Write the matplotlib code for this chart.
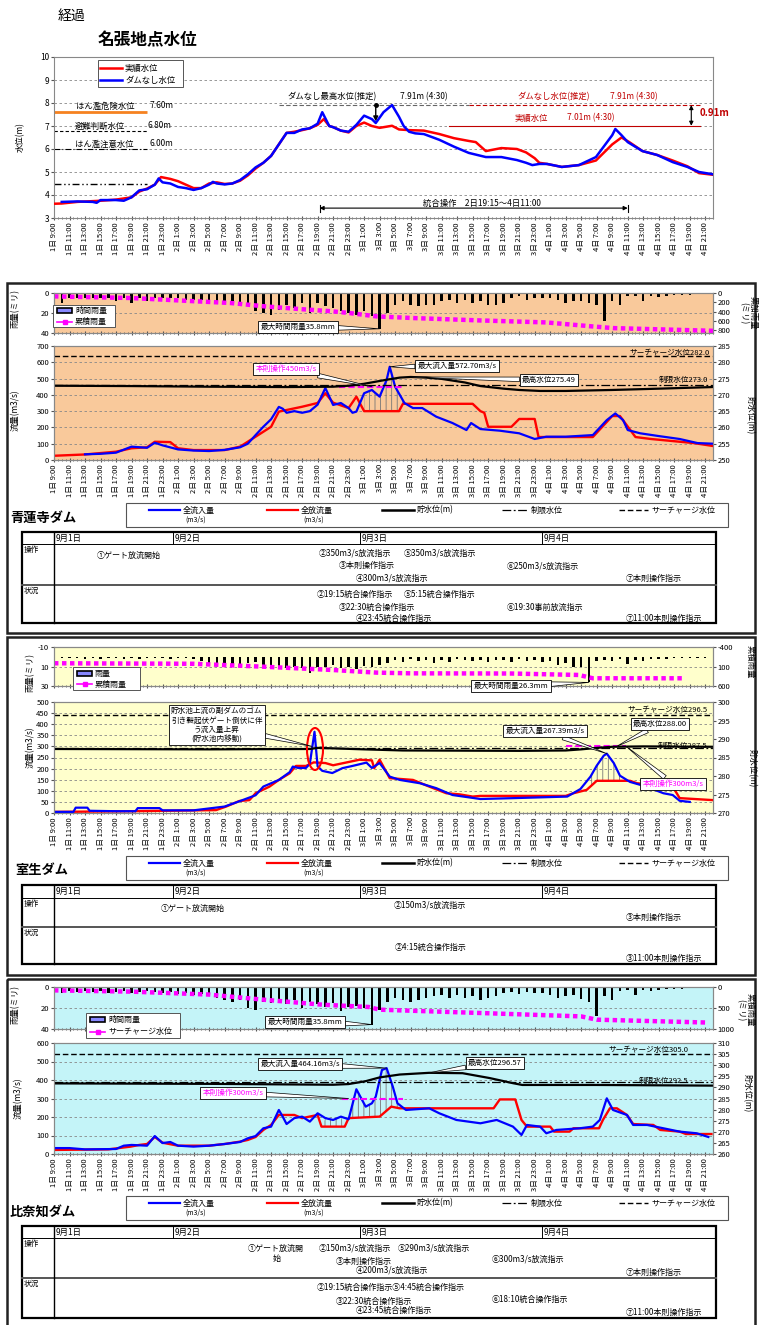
import numpy as np
import matplotlib
matplotlib.use('Agg')
import matplotlib.pyplot as plt
from matplotlib.patches import Rectangle, Ellipse

plt.rcParams['font.family'] = ['Noto Sans CJK JP', 'DejaVu Sans']
plt.rcParams['axes.unicode_minus'] = False
plt.rcParams['hatch.linewidth'] = 0.6
plt.rcParams['hatch.color'] = '#777777'

# 時刻は 1日9:00 からの経過時間 [h]
tick_hours = list(range(0, 85, 2))
tick_labels = ['%d日 %d:00' % (1 + (9 + h) // 24, (9 + h) % 24) for h in tick_hours]
rain_hours = list(range(1, 85))
day_names = ['9月1日', '9月2日', '9月3日', '9月4日']

# ---- 名張地点水位 [m] ----
nabari_jisseki_t = [0, 1, 3, 6, 8, 10, 11, 12, 13, 13.8, 15, 16, 17, 18, 19, 20, 21, 22, 23, 24,
                    25, 26, 27, 28, 29, 30, 31, 32, 33, 34, 34.8, 35.5, 36, 37, 38, 39, 40, 41, 42, 43.6,
                    44.5, 45.8, 47.7, 49.7, 51.6, 53.5, 54.4, 55.7, 57.7, 59.7, 60.9, 62, 62.6, 63.6, 65.5,
                    67.7, 69.9, 72, 73.2, 74.2, 75.9, 77.8, 79.8, 81.7, 83.2, 85]
nabari_jisseki = [3.62, 3.63, 3.70, 3.75, 3.80, 3.90, 4.15, 4.28, 4.45, 4.78, 4.70, 4.60, 4.45, 4.30, 4.30,
                  4.50, 4.55, 4.48, 4.50, 4.62, 4.85, 5.15, 5.40, 5.70, 6.20, 6.70, 6.75, 6.82, 6.90, 7.05,
                  7.30, 7.00, 6.95, 6.80, 6.72, 7.00, 7.15, 7.00, 6.92, 7.01, 6.85, 6.82, 6.80, 6.65, 6.47,
                  6.35, 6.30, 5.91, 6.04, 6.00, 5.85, 5.60, 5.40, 5.35, 5.22, 5.30, 5.50, 6.20, 6.50, 6.30,
                  5.91, 5.74, 5.50, 5.25, 4.95, 4.88]
nabari_nodam_t = [1, 3, 5, 5.5, 6, 8, 9, 10, 11, 12, 13, 13.5, 14, 15, 16, 17, 18, 19, 20, 20.5,
                  21, 22, 23, 24, 25, 26, 27, 28, 29, 30, 31, 32, 33, 34, 34.6, 35.5, 36, 37, 38, 39,
                  40, 41, 41.5, 42.5, 43.6, 44.5, 45.1, 45.8, 46.6, 47.7, 49.7, 51.6, 53.5, 55.7, 57.7,
                  59.7, 60.9, 61.7, 62.6, 63.6, 65.5, 67.7, 69.9, 72, 72.4, 73.2, 74, 75.9, 77.8, 79.8,
                  81.7, 83.2, 85]
nabari_nodam = [3.70, 3.72, 3.70, 3.66, 3.78, 3.78, 3.75, 3.90, 4.20, 4.25, 4.45, 4.72, 4.55, 4.50, 4.35,
                4.30, 4.22, 4.30, 4.45, 4.57, 4.50, 4.46, 4.50, 4.65, 4.90, 5.20, 5.40, 5.70, 6.20, 6.70,
                6.70, 6.85, 6.90, 7.10, 7.60, 7.00, 6.95, 6.80, 6.75, 7.05, 7.45, 7.30, 7.13, 7.60, 7.91,
                7.40, 7.00, 6.75, 6.68, 6.65, 6.40, 6.10, 5.83, 5.65, 5.65, 5.52, 5.40, 5.30, 5.35, 5.35,
                5.22, 5.30, 5.65, 6.60, 6.87, 6.60, 6.30, 5.91, 5.74, 5.43, 5.22, 5.00, 4.90]
kiken_level, hinan_level, chui_level, base_level = 7.60, 6.80, 6.00, 4.50
nodam_peak, jisseki_peak = 7.91, 7.01
sogo_start, sogo_end = 34.25, 74.0   # 2日19:15 ～ 4日11:00

# ---- 青蓮寺ダム ----
shoren_rain = [10, 5, 5, 5, 5, 5, 5, 8, 5, 10, 5, 8, 5, 5, 5, 5, 7, 7, 7, 8, 8, 10, 8, 13, 12, 18, 20,
               22, 17, 12, 15, 10, 20, 10, 13, 15, 18, 20, 22, 18, 23, 35.8,
               20, 12, 8, 12, 13, 12, 12, 8, 7, 10, 7, 10, 8, 12, 12, 10, 5, 3, 7, 5, 5, 5, 7, 10, 8,
               8, 10, 12, 28, 8, 12, 3, 3, 8, 3, 4, 3, 2, 2, 2, 1, 1]
shoren_cum_t = [0, 9.9, 18.5, 22.8, 27.2, 31.7, 36, 38.1, 41.6, 46.3, 54.9, 63.5, 69.5, 72.1, 85]
shoren_cum = [72, 107, 179, 214, 286, 343, 393, 428, 500, 535, 586, 629, 715, 750, 808]
shoren_in_t = [4, 6, 8, 10, 12, 13, 14, 16, 18, 20, 22, 24, 25, 26, 27, 28, 29, 29.5, 30, 31, 32, 33,
               34, 35, 36, 37, 38, 38.5, 39, 40, 41, 42, 42.9, 43.3, 44, 44.6, 45.2, 46.3, 47.5, 49.3,
               51.4, 53.2, 53.8, 55, 57.5, 60, 62, 63.5, 66, 69.5, 71.3, 72.4, 73.4, 74, 75.6, 78, 80.7,
               83, 85]
shoren_in = [35, 38, 45, 82, 75, 106, 90, 65, 58, 55, 62, 78, 100, 153, 204, 250, 326, 315, 290, 300,
             290, 300, 340, 442, 338, 350, 319, 290, 297, 410, 430, 389, 491, 572.7, 450, 400, 350, 319,
             319, 266, 227, 184, 227, 190, 180, 164, 129, 143, 143, 153, 245, 286, 245, 184, 164, 147,
             129, 104, 100]
shoren_out_t = [0, 4, 8, 10, 12, 13, 15, 16, 18, 22, 24, 26, 28, 29, 30, 32, 34, 35, 36, 38, 39, 40,
                44.5, 45, 54, 55, 55.5, 56, 59, 60, 62, 62.5, 69.5, 72, 73, 75, 77, 82.5, 85]
shoren_out = [26, 34, 51, 72, 78, 112, 110, 72, 61, 61, 82, 143, 204, 297, 307, 327, 350, 410, 352,
              319, 389, 300, 300, 345, 345, 300, 290, 204, 204, 252, 252, 141, 141, 270, 270, 141, 129,
              104, 86]
shoren_wl_t = [0, 10, 20, 30, 36, 38, 40, 42.8, 44.6, 46, 48, 50, 53, 55, 58, 60, 62.7, 66, 72, 78, 85]
shoren_wl = [272.8, 272.7, 272.5, 272.4, 272.5, 272.8, 273.4, 274.6, 275.3, 275.49, 275.3, 274.9, 273.8,
             272.7, 271.9, 271.5, 271.2, 271.2, 271.5, 271.9, 272.4]
shoren_surcharge, shoren_limit = 282.0, 273.0
shoren_honsoku, shoren_honsoku_t = 450, [36.8, 45.0]

# ---- 室生ダム ----
muro_rain = [1, 1, 1, 2, 1, 2, 1, 1, 2, 1, 2, 1, 1, 1, 2, 1, 1, 2,
             4, 6, 8, 7, 8, 8, 6, 5, 10, 13, 10, 12, 10, 12, 17, 10, 10, 8, 12, 10, 13, 9, 10, 8,
             6, 3, 5, 2, 4, 3, 6, 3, 5, 2, 3, 4, 3, 5, 3, 3, 5, 2, 4, 3, 5, 4, 8, 6, 11, 10, 26.3,
             4, 3, 4, 2, 7, 3, 4, 2, 2, 2, 1, 1, 1, 1, 1]
muro_cum_t = [0, 18, 27, 36, 41.6, 46, 59, 67.7, 69.5, 81]
muro_cum = [17, 30, 105, 190, 257, 275, 280, 317, 402, 402]
muro_in_t = [0, 2.5, 2.8, 4.3, 4.6, 8, 10.5, 10.8, 13.6, 14, 18, 22, 24, 26, 27, 29, 30.4, 30.8, 31.5,
             32.5, 33, 33.6, 34, 34.6, 35.9, 37.2, 38.5, 40.3, 41, 42, 43.3, 44.6, 47.2, 49.3, 51.4, 55,
             59.3, 66.2, 67.9, 69.2, 70, 70.9, 71.3, 72.2, 73, 74.3, 76.4, 78.6, 79.8, 80.7, 82]
muro_in = [5, 5, 24, 24, 10, 8, 8, 22, 22, 12, 12, 29, 54, 80, 119, 149, 184, 209, 203, 203, 222, 366,
           210, 190, 180, 202, 212, 227, 203, 225, 164, 149, 134, 112, 81, 63, 67, 74, 108, 164, 213,
           258, 267.39, 225, 168, 140, 119, 89, 81, 55, 50]
muro_out_t = [0, 10, 20.9, 22.2, 23.9, 25.2, 26, 27.8, 29, 30.4, 31.2, 32.5, 33.5, 35, 36, 39.4, 41,
              41.3, 42, 43.3, 46.3, 48.4, 50.6, 52.3, 54, 55, 66, 67, 68.7, 70, 74.3, 75.2, 79.8, 80.7, 85]
muro_out = [5, 8, 13, 29, 54, 58, 89, 119, 149, 179, 212, 212, 228, 225, 215, 240, 237, 202, 240, 157,
            149, 119, 89, 84, 74, 77, 77, 89, 104, 145, 145, 134, 119, 67, 58]
muro_wl_t = [0, 20, 33, 34, 40, 45, 60, 66, 68, 70, 72, 76, 85]
muro_wl = [287.3, 287.2, 287.3, 287.6, 287.2, 286.9, 286.8, 286.9, 287.2, 287.6, 287.9, 288.0, 287.9]
muro_surcharge, muro_limit = 296.5, 287.5
muro_honsoku, muro_honsoku_t = 300, [66.0, 73.8]

# ---- 比奈知ダム ----
hinachi_rain = [6, 4, 5, 4, 5, 4, 6, 5, 4, 6, 5, 4, 5, 6, 5, 7, 6, 8, 7, 9,
                10, 12, 14, 12, 20, 22, 14, 15, 12, 16, 12, 20, 14, 16, 19, 15, 23, 19, 18, 20, 35.8,
                22, 14, 10, 12, 14, 12, 10, 9, 8, 10, 8, 10, 9, 12, 10, 9, 6, 5, 7, 5, 6, 6, 8, 10, 9,
                8, 11, 14, 28, 9, 12, 4, 3, 8, 3, 4, 3, 2, 2, 2, 1, 1, 1]
hinachi_cum_t = [0, 10, 20, 27, 34.6, 40.6, 42, 55, 68, 70, 84]
hinachi_cum = [80, 110, 180, 302, 421, 476, 540, 619, 700, 778, 845]
hinachi_in_t = [0, 2, 4, 8, 9, 10, 12, 13, 14, 15, 16, 18, 20, 22, 24, 25, 26, 27, 28, 29, 29.5, 30, 31,
                32, 33, 34, 35, 36, 37, 38, 39, 40.2, 41, 41.5, 42.3, 42.9, 43.7, 44.3, 45.4, 48.4, 49.7,
                51.9, 55, 57.1, 59.2, 60.3, 61, 62.7, 63.5, 64.8, 67.8, 69.5, 70.4, 71.3, 72.1, 73.9,
                74.7, 76.5, 78.6, 80.7, 82.9, 84.4]
hinachi_in = [32, 32, 25, 27, 45, 49, 45, 97, 59, 65, 45, 40, 45, 54, 65, 85, 97, 139, 148, 238, 202,
              162, 194, 202, 175, 220, 194, 184, 202, 188, 350, 256, 274, 310, 454, 464.16, 364, 274,
              238, 247, 220, 184, 166, 184, 148, 103, 157, 148, 112, 130, 139, 148, 184, 301, 238, 211,
              157, 157, 139, 121, 112, 92]
hinachi_out_t = [0, 7, 9.9, 11, 12, 13, 14, 16, 20, 22, 24, 25, 26, 27, 28, 29, 31, 32, 34, 34.5, 37.5,
                 38, 42, 43.5, 44.6, 56.7, 57.5, 59.5, 60.3, 61, 64, 64.5, 66.5, 67, 70.3, 70.8, 71.7,
                 72.6, 73.9, 74.7, 77.3, 78.2, 80.7, 81.5, 84.8]
hinachi_out = [22, 25, 40, 49, 54, 92, 61, 45, 45, 54, 67, 76, 92, 130, 157, 211, 211, 194, 211, 148,
               148, 194, 202, 256, 247, 247, 295, 295, 184, 148, 148, 121, 121, 139, 139, 184, 247, 247,
               211, 162, 157, 130, 121, 108, 108]
hinachi_wl_t = [0, 20, 36, 38, 40.2, 42, 44.6, 48.4, 52.7, 56.2, 59.2, 60.4, 70, 85]
hinachi_wl = [291.8, 291.6, 291.2, 291.5, 292.8, 294.5, 295.8, 296.57, 296.4, 294.2, 291.9, 291.1,
              291.1, 290.8]
hinachi_surcharge, hinachi_limit = 305.0, 292.5
hinachi_honsoku, hinachi_honsoku_t = 300, [37.2, 45.0]

BLUE, RED, MAG = '#0000FF', '#FF0000', '#FF00FF'
DARKRED = '#C00000'
GRID_LS = (0, (3, 3))
SUR_LS = (0, (4, 2))
LIM_LS = (0, (7, 2, 1.5, 2))
CUM_LS = (0, (1, 0.8))

W, H = 760, 1325
fig = plt.figure(figsize=(W / 100, H / 100), dpi=100)

# 全体を覆うピクセル座標の重ね書き用軸
ov = fig.add_axes([0, 0, 1, 1], zorder=10)
ov.set_xlim(0, W)
ov.set_ylim(H, 0)
ov.axis('off')


def px_axes(x0, y0, x1, y1):
    return fig.add_axes([x0 / W, 1 - y1 / H, (x1 - x0) / W, (y1 - y0) / H])


def style(ax):
    for s in ax.spines.values():
        s.set_color('#888888')
    ax.tick_params(labelsize=5.5, length=2, pad=1.5, color='#555555')


def time_axis(ax, labels):
    ax.set_xlim(0, 85)
    ax.set_xticks(tick_hours)
    ax.set_xticks(np.arange(0, 85.01, 0.5), minor=True)
    ax.tick_params(axis='x', which='major', length=3, direction='inout')
    ax.tick_params(axis='x', which='minor', length=2, direction='inout', color='#555555')
    if labels:
        ax.set_xticklabels(tick_labels, rotation=90, fontsize=5.5)
    else:
        ax.set_xticklabels([])


def callout(ax, text, xy, center, color='black', fs=5.5):
    ov.annotate(text, xy=xy, xycoords=ax.transData, xytext=center, textcoords='data',
                ha='center', va='center', fontsize=fs, color=color, annotation_clip=False,
                bbox=dict(boxstyle='square,pad=0.3', fc='white', ec='black', lw=0.6),
                arrowprops=dict(arrowstyle='wedge,tail_width=0.6', fc='white', ec='black',
                                lw=0.5, shrinkA=0, shrinkB=0))


def hatch(ax, t_in, q_in, t_out, q_out, t0, t1):
    # 流入量が放流量を上回る区間（貯留分）に縦線ハッチ
    xs = [t for t in t_in if t0 <= t <= t1]
    ys = [q for t, q in zip(t_in, q_in) if t0 <= t <= t1]
    xr = [t for t in t_out if t0 <= t <= t1][::-1]
    yr = [q for t, q in zip(t_out, q_out) if t0 <= t <= t1][::-1]
    poly = ax.fill(xs + xr, ys + yr, facecolor='none', edgecolor='#777777', hatch='|||',
                   lw=0, zorder=1)[0]
    if hasattr(poly, 'set_hatchcolor'):
        poly.set_hatchcolor('#777777')


def vlabel(x, y, s, rot=90):
    ov.text(x, y, s, rotation=rot, fontsize=6, ha='center', va='center', linespacing=1.1)


def dam_panel(rain_box, flow_box, bg, rain, rain_lim, rain_ticks, cum_t, cum, cum_lim, cum_ticks,
              in_t, q_in, out_t, q_out, wl_t, wl, q_lim, q_ticks, wl_lim, wl_ticks,
              surcharge, limit, honsoku, honsoku_t):
    ra = px_axes(*rain_box)
    ra.set_facecolor(bg)
    rb = ra.twinx()
    for a in (ra, rb):
        style(a)
    ra.set_ylim(*rain_lim)
    ra.set_yticks(rain_ticks)
    ra.yaxis.grid(True, color='#888888', ls=GRID_LS, lw=0.6)
    rb.set_ylim(*cum_lim)
    rb.set_yticks(cum_ticks)
    time_axis(ra, False)
    ra.bar(rain_hours, rain, width=0.32, color='black', zorder=2)
    rb.plot(cum_t, cum, color=MAG, lw=3.2, ls=CUM_LS)

    fa = px_axes(*flow_box)
    fa.set_facecolor(bg)
    fb = fa.twinx()
    for a in (fa, fb):
        style(a)
    fa.set_ylim(*q_lim)
    fa.set_yticks(q_ticks)
    fa.yaxis.grid(True, color='#888888', ls=GRID_LS, lw=0.6)
    fa.set_axisbelow(True)
    fb.set_ylim(*wl_lim)
    fb.set_yticks(wl_ticks)
    time_axis(fa, True)
    fa.plot(out_t, q_out, color=RED, lw=1.7, zorder=3)
    fa.plot(in_t, q_in, color=BLUE, lw=1.6, zorder=4)
    fa.plot(honsoku_t, [honsoku, honsoku], color=MAG, lw=1.5, ls=(0, (3, 1.5)), zorder=5)
    fb.axhline(surcharge, color='black', lw=1.0, ls=SUR_LS)
    fb.axhline(limit, color='black', lw=0.9, ls=LIM_LS)
    fb.plot(wl_t, wl, color='black', lw=1.6)
    return ra, rb, fa, fb


def dam_legend(top):
    ov.add_patch(Rectangle((126, top), 602, 24, fill=False, ec='#555555', lw=0.8))
    y = top + 7
    items = [(149, 180, dict(color=BLUE, lw=1.6), '全流入量', '(m3/s)'),
             (267, 298, dict(color=RED, lw=1.6), '全放流量', '(m3/s)'),
             (382, 414, dict(color='black', lw=1.8), '貯水位(m)', None),
             (502, 528, dict(color='black', lw=0.9, ls=LIM_LS), '制限水位', None),
             (619, 648, dict(color='black', lw=1.0, ls=SUR_LS), 'サーチャージ水位', None)]
    for x0, x1, kw, s, unit in items:
        ov.plot([x0, x1], [y, y], **kw)
        ov.text(x1 + 3, y, s, fontsize=5.8, va='center')
        if unit:
            ov.text(x1 + 5, y + 10, unit, fontsize=5, va='center')


def rain_legend(x0, y0, x1, y1, first, second):
    ov.add_patch(Rectangle((x0, y0), x1 - x0, y1 - y0, fc='white', ec='#555555', lw=0.7))
    ya = y0 + (y1 - y0) * 0.27
    yb = y0 + (y1 - y0) * 0.75
    ov.add_patch(Rectangle((x0 + 4, ya - 2.5), 15, 5, fc='#8888FF', ec='black', lw=1.2))
    ov.text(x0 + 22, ya, first, fontsize=5.8, va='center')
    ov.plot([x0 + 4, x0 + 19], [yb, yb], color=MAG, lw=1.2)
    ov.plot([x0 + 11.5], [yb], 's', color=MAG, ms=3)
    ov.text(x0 + 22, yb, second, fontsize=5.8, va='center')


def draw_table(top, hdr, mid, bot, ops, jokyo):
    ov.add_patch(Rectangle((22, top), 694, bot - top, fill=False, ec='black', lw=1.6))
    ov.plot([22, 716], [hdr, hdr], color='black', lw=0.7)
    ov.plot([22, 716], [mid, mid], color='#555555', lw=1.4)
    ov.plot([54, 54], [top, bot], color='black', lw=1.0)
    for x, d in zip([54, 173, 360, 542], day_names):
        ov.plot([x, x], [top, hdr], color='black', lw=0.7)
        ov.text(x + 2, (top + hdr) / 2, d, fontsize=6, va='center')
    ov.text(24, hdr + 2, '操作', fontsize=5.5, va='top')
    ov.text(24, mid + 2, '状況', fontsize=5.5, va='top')
    for x, y, s in ops + jokyo:
        ov.text(x, y, s, fontsize=5.8, va='center')


# ================= 名張地点水位 =================
ov.text(58, 16, '経過', fontsize=10, va='center')
ov.text(98, 40, '名張地点水位', fontsize=12, fontweight='bold', va='center')

ax = px_axes(54, 57, 713, 218)
style(ax)
ax.set_ylim(3, 10)
ax.set_yticks(range(3, 11))
ax.tick_params(axis='y', labelsize=6)
ax.yaxis.grid(True, color='#888888', ls=GRID_LS, lw=0.6)
time_axis(ax, True)
ax.plot(nabari_jisseki_t, nabari_jisseki, color=RED, lw=1.8, zorder=3)
ax.plot(nabari_nodam_t, nabari_nodam, color=BLUE, lw=1.8, zorder=4)

ax.plot([0, 12], [kiken_level] * 2, color='#F58220', lw=2, solid_capstyle='butt')
ax.plot([0, 12], [hinan_level] * 2, color='black', lw=0.8, ls=(0, (3, 2)))
ax.plot([0, 12], [chui_level] * 2, color='black', lw=0.8, ls=(0, (5, 2, 1, 2)))
ax.plot([0, 12], [base_level] * 2, color='black', lw=1.0, ls=(0, (5, 2, 1, 2, 1, 2)))
ov.text(76, 106, 'はん濫危険水位', fontsize=6, va='center')
ov.text(150, 106, '7.60m', fontsize=6, va='center')
ov.text(75, 126, '避難判断水位', fontsize=6, va='center')
ov.text(147, 126, '6.80m', fontsize=6, va='center')
ov.text(75, 144, 'はん濫注意水位', fontsize=6, va='center')
ov.text(150, 144, '6.00m', fontsize=6, va='center')

ax.plot([29, 53.5], [nodam_peak] * 2, color='#666666', lw=0.8, ls=(0, (4, 2)))
ax.plot([53.5, 83.3], [nodam_peak] * 2, color=DARKRED, lw=0.8, ls=(0, (4, 2)))
ax.plot([51, 83.3], [jisseki_peak] * 2, color=DARKRED, lw=0.8)
ov.text(287, 97, 'ダムなし最高水位(推定)', fontsize=6, va='center')
ov.text(400, 97, '7.91m (4:30)', fontsize=6, va='center')
ov.text(517, 97, 'ダムなし水位(推定)', fontsize=6, va='center', color=DARKRED)
ov.text(610, 97, '7.91m (4:30)', fontsize=6, va='center', color=DARKRED)
ov.text(515, 118, '実績水位', fontsize=6, va='center', color=DARKRED)
ov.text(567, 118, '7.01m (4:30)', fontsize=6, va='center', color=DARKRED)
ov.text(700, 113, '0.91m', fontsize=7, va='center', color=DARKRED, fontweight='bold')
ax.annotate('', xy=(82.2, jisseki_peak), xytext=(82.2, nodam_peak),
            arrowprops=dict(arrowstyle='<|-|>', color='black', lw=0.8, mutation_scale=6,
                            shrinkA=0, shrinkB=0))
ax.annotate('', xy=(41.5, 7.2), xytext=(41.5, nodam_peak),
            arrowprops=dict(arrowstyle='-|>', color='black', lw=1.0, mutation_scale=7,
                            shrinkA=0, shrinkB=0))
ax.plot([41.5], [nodam_peak], 'o', color='black', ms=2.5)

ax.annotate('', xy=(sogo_end, 3.43), xytext=(sogo_start, 3.43),
            arrowprops=dict(arrowstyle='<|-|>', color='black', lw=0.8, mutation_scale=6,
                            shrinkA=0, shrinkB=0))
ax.plot([sogo_start] * 2, [3.28, 3.58], color='black', lw=0.8)
ax.plot([sogo_end] * 2, [3.28, 3.58], color='black', lw=0.8)
ov.text(423, 203, '統合操作　2日19:15～4日11:00', fontsize=6, va='center')

ov.add_patch(Rectangle((98, 60), 85, 27, fc='white', ec='#555555', lw=0.7))
ov.plot([100, 122], [68, 68], color=RED, lw=1.8)
ov.plot([100, 122], [80, 80], color=BLUE, lw=1.8)
ov.text(125, 68, '実績水位', fontsize=6, va='center')
ov.text(125, 80, 'ダムなし水位', fontsize=6, va='center')
vlabel(20, 137, '水位(m)')

# ================= 青蓮寺ダム =================
ov.add_patch(Rectangle((7, 283), 748, 350, fill=False, ec='#222222', lw=1.8))
ra, rb, fa, fb = dam_panel((54, 293, 713, 333), (54, 346, 713, 460), '#F9C99B',
                           shoren_rain, (40, 0), [0, 20, 40], shoren_cum_t, shoren_cum, (855, 0),
                           [0, 200, 400, 600, 800],
                           shoren_in_t, shoren_in, shoren_out_t, shoren_out, shoren_wl_t, shoren_wl,
                           (0, 700), range(0, 701, 100), (250, 285), range(250, 286, 5),
                           shoren_surcharge, shoren_limit, shoren_honsoku, shoren_honsoku_t)
hatch(fa, shoren_in_t, shoren_in, shoren_out_t, shoren_out, 39.5, 45.2)
rain_legend(53, 305, 115, 327, '時間雨量', '累積雨量')
callout(ra, '最大時間雨量35.8mm', (42, 35.8), (298, 327))
callout(fa, '本則操作450m3/s', (41, shoren_honsoku), (286, 369), color=MAG)
callout(fa, '最大流入量572.70m3/s', (43.3, 572.7), (457, 366))
callout(fb, '最高水位275.49', (46, 275.49), (549, 380))
ov.text(710, 353, 'サーチャージ水位282.0', fontsize=5.5, ha='right', va='center')
ov.text(708, 380, '制限水位273.0', fontsize=5.5, ha='right', va='center')
vlabel(15, 308, '雨量(ミリ)')
vlabel(15, 410, '流量(m3/s)')
vlabel(748, 313, '累加雨量\n(ミリ)', rot=270)
vlabel(750, 415, '貯水位(m)', rot=270)

ov.text(10, 518, '青蓮寺ダム', fontsize=9.5, fontweight='bold', va='center')
dam_legend(503)
draw_table(532, 544, 585, 623,
           [(97, 555, '①ゲート放流開始'), (319, 553, '②350m3/s放流指示'),
            (404, 553, '⑤350m3/s放流指示'), (339, 565, '③本則操作指示'),
            (507, 566, '⑥250m3/s放流指示'), (356, 578, '④300m3/s放流指示'),
            (626, 578, '⑦本則操作指示')],
           [(317, 594, '②19:15統合操作指示'), (404, 594, '⑤5:15統合操作指示'),
            (339, 607, '③22:30統合操作指示'), (507, 607, '⑥19:30事前放流指示'),
            (356, 618, '④23:45統合操作指示'), (626, 618, '⑦11:00本則操作指示')])

# ================= 室生ダム =================
ov.add_patch(Rectangle((7, 637), 748, 338, fill=False, ec='#222222', lw=1.8))
ra, rb, fa, fb = dam_panel((54, 647, 713, 686), (54, 702, 713, 813), '#FFFFCC',
                           muro_rain, (30, -10), [-10, 10, 30], muro_cum_t, muro_cum, (600, -400),
                           [-400, 100, 600],
                           muro_in_t, muro_in, muro_out_t, muro_out, muro_wl_t, muro_wl,
                           (0, 500), range(0, 501, 50), (270, 300), range(270, 301, 5),
                           muro_surcharge, muro_limit, muro_honsoku, muro_honsoku_t)
hatch(fa, muro_in_t, muro_in, muro_out_t, muro_out, 68.7, 74.3)
rain_legend(73, 667, 140, 690, '雨量', '累積雨量')
callout(ra, '最大時間雨量26.3mm', (69, 26.3), (511, 686))
callout(fa, '貯水池上流の副ダムのゴム\n引き製起伏ゲート倒伏に伴\nう流入量上昇\n(貯水池内移動)',
        (33.3, 300), (217, 725))
ov.add_patch(Ellipse((315, 749), 16, 42, fill=False, ec=RED, lw=1.5))
callout(fa, '最大流入量267.39m3/s', (71.3, 267.39), (545, 731))
callout(fb, '最高水位288.00', (72.5, 287.9), (660, 724))
callout(fa, '本則操作300m3/s', (73.8, muro_honsoku), (673, 784), color=MAG)
ov.text(708, 710, 'サーチャージ水位296.5', fontsize=5.5, ha='right', va='center')
ov.text(707, 746, '制限水位287.5', fontsize=5.5, ha='right', va='center')
vlabel(30, 672, '雨量(ミリ)')
vlabel(30, 747, '流量(m3/s)')
vlabel(750, 662, '累積雨量', rot=270)
vlabel(752, 768, '貯水位(m)', rot=270)

ov.text(15, 870, '室生ダム', fontsize=9.5, fontweight='bold', va='center')
dam_legend(856)
draw_table(885, 898, 927, 964,
           [(161, 908, '①ゲート放流開始'), (394, 905, '②150m3/s放流指示'),
            (626, 917, '③本則操作指示')],
           [(395, 947, '②4:15統合操作指示'), (626, 958, '③11:00本則操作指示')])

# ================= 比奈知ダム =================
ov.add_patch(Rectangle((7, 979), 748, 360, fill=False, ec='#222222', lw=1.8))
ra, rb, fa, fb = dam_panel((54, 987, 713, 1029), (54, 1043, 713, 1154), '#C4F4F8',
                           hinachi_rain, (40, 0), [0, 20, 40], hinachi_cum_t, hinachi_cum, (1000, 0),
                           [0, 500, 1000],
                           hinachi_in_t, hinachi_in, hinachi_out_t, hinachi_out, hinachi_wl_t,
                           hinachi_wl, (0, 600), range(0, 601, 100), (260, 310), range(260, 311, 5),
                           hinachi_surcharge, hinachi_limit, hinachi_honsoku, hinachi_honsoku_t)
hatch(fa, hinachi_in_t, hinachi_in, hinachi_out_t, hinachi_out, 34.5, 37.5)
hatch(fa, hinachi_in_t, hinachi_in, hinachi_out_t, hinachi_out, 38.0, 45.4)
rain_legend(86, 1013, 180, 1038, '時間雨量', 'サーチャージ水位')
callout(ra, '最大時間雨量35.8mm', (41, 35.8), (305, 1022))
callout(fa, '最大流入量464.16m3/s', (42.9, 464.16), (300, 1064))
callout(fa, '本則操作300m3/s', (38, hinachi_honsoku), (233, 1093), color=MAG)
callout(fb, '最高水位296.57', (48.4, 296.57), (495, 1063))
ov.text(688, 1050, 'サーチャージ水位305.0', fontsize=5.5, ha='right', va='center')
ov.text(688, 1081, '制限水位292.5', fontsize=5.5, ha='right', va='center')
vlabel(15, 1005, '雨量(ミリ)')
vlabel(18, 1098, '流量(m3/s)')
vlabel(745, 1010, '累積雨量\n(ミリ)', rot=270)
vlabel(747, 1093, '貯水位(m)', rot=270)

ov.text(10, 1213, '比奈知ダム', fontsize=9.5, fontweight='bold', va='center')
dam_legend(1196)
draw_table(1226, 1238, 1278, 1318,
           [(248, 1248, '①ゲート放流開'), (273, 1258, '始'), (319, 1248, '②150m3/s放流指示'),
            (398, 1248, '⑤290m3/s放流指示'), (336, 1261, '③本則操作指示'),
            (492, 1259, '⑥300m3/s放流指示'), (356, 1270, '④200m3/s放流指示'),
            (626, 1272, '⑦本則操作指示')],
           [(317, 1287, '②19:15統合操作指示⑤4:45統合操作指示'), (336, 1301, '③22:30統合操作指示'),
            (492, 1299, '⑥18:10統合操作指示'), (356, 1310, '④23:45統合操作指示'),
            (626, 1312, '⑦11:00本則操作指示')])

fig.savefig('out.png', dpi=100)
